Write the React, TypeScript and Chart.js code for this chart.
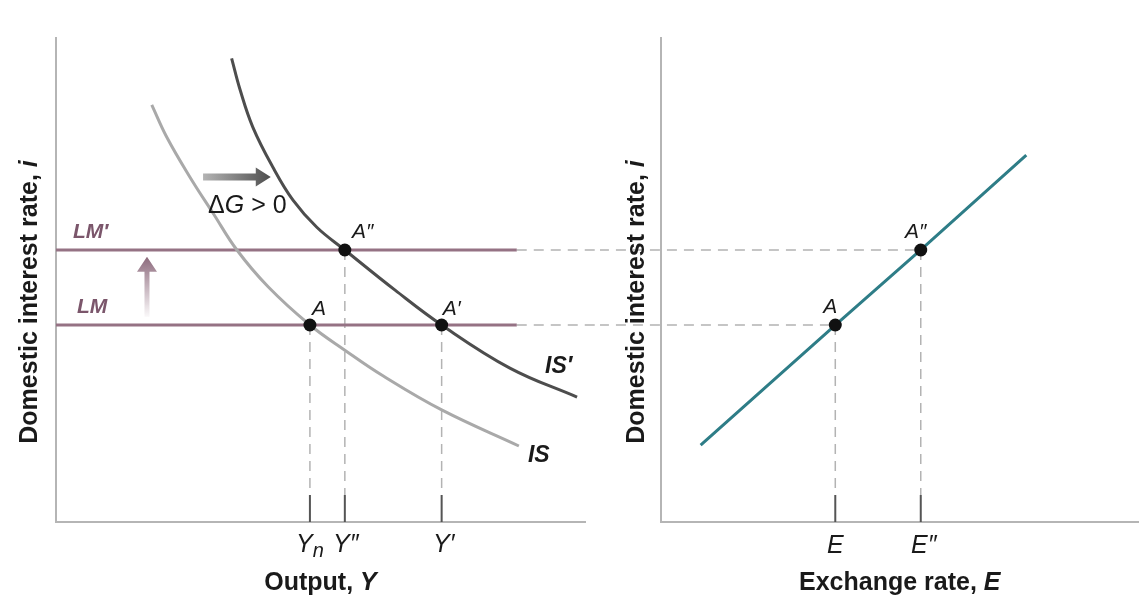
import { useEffect, useRef } from 'react';
import { Chart, registerables } from 'chart.js';

Chart.register(...registerables);

// left panel (IS-LM), arbitrary units 0-100 on both axes
const isOutput = [18.1, 20.9, 25.3, 29.7, 34.2, 40.1, 48.0, 54.6, 61.8, 73.0, 87.5];
const isRate = [86.2, 79.6, 71.3, 63.8, 56.2, 48.6, 40.7, 35.5, 30.2, 23.1, 15.7];
const isShiftOutput = [33.2, 34.8, 37.2, 41.0, 44.8, 49.3, 54.6, 64.1, 72.9, 85.8, 98.5];
const isShiftRate = [95.8, 89.3, 81.6, 73.3, 66.5, 60.9, 56.2, 47.9, 40.7, 31.8, 25.8];
const lmRate = 40.7;
const lmShiftRate = 56.2;
const lmEnd = 87.1;
const outputTicks = [48.0, 54.6, 72.9]; // Yn, Y'', Y'
const outputTickRates = [40.7, 56.2, 40.7];

// right panel (interest parity)
const uipExchange = [8.3, 36.5, 54.4, 76.5];
const uipRate = [15.9, 40.7, 56.2, 75.8];
const exchangeTicks = [36.5, 54.4]; // E, E''
const exchangeTickRates = [40.7, 56.2];

const tickTop = 5.6;

const FAM = "'Liberation Sans', Arial, Helvetica, sans-serif";
const AXIS = '#b5b5b5';
const DASH = '#b3b3b3';
const MAUVE = '#957284';
const MAUVE_TEXT = '#7b566b';
const INK = '#1a1a1a';

type Run = { t: string; f: string; dy?: number };
type Note = { runs: Run[]; x: number; y: number; dx: number; dy: number; align: 'left' | 'center'; color: string };
type Arrow = { x0: number; y0: number; x1: number; y1: number; shaft: number; head: number; headW: number; c0: string; c1: string };

const it = (s: number) => `italic ${s}px ${FAM}`;
const bi = (s: number) => `italic bold ${s}px ${FAM}`;
const bd = (s: number) => `bold ${s}px ${FAM}`;
const rg = (s: number) => `${s}px ${FAM}`;

function drawRuns(ctx: CanvasRenderingContext2D, runs: Run[], x: number, y: number, align: 'left' | 'center') {
  const widths = runs.map((r) => {
    ctx.font = r.f;
    return ctx.measureText(r.t).width;
  });
  let cx = align === 'center' ? x - widths.reduce((a, b) => a + b, 0) / 2 : x;
  runs.forEach((r, i) => {
    ctx.font = r.f;
    ctx.fillText(r.t, cx, y + (r.dy ?? 0));
    cx += widths[i];
  });
}

function drawArrow(ctx: CanvasRenderingContext2D, x0: number, y0: number, x1: number, y1: number, a: Arrow) {
  const len = Math.hypot(x1 - x0, y1 - y0);
  const ux = (x1 - x0) / len;
  const uy = (y1 - y0) / len;
  const nx = -uy;
  const ny = ux;
  const bx = x1 - ux * a.head;
  const by = y1 - uy * a.head;
  const g = ctx.createLinearGradient(x0, y0, x1, y1);
  g.addColorStop(0, a.c0);
  g.addColorStop(1, a.c1);
  ctx.beginPath();
  ctx.moveTo(x0 + (nx * a.shaft) / 2, y0 + (ny * a.shaft) / 2);
  ctx.lineTo(bx + (nx * a.shaft) / 2, by + (ny * a.shaft) / 2);
  ctx.lineTo(bx + (nx * a.headW) / 2, by + (ny * a.headW) / 2);
  ctx.lineTo(x1, y1);
  ctx.lineTo(bx - (nx * a.headW) / 2, by - (ny * a.headW) / 2);
  ctx.lineTo(bx - (nx * a.shaft) / 2, by - (ny * a.shaft) / 2);
  ctx.lineTo(x0 - (nx * a.shaft) / 2, y0 - (ny * a.shaft) / 2);
  ctx.closePath();
  ctx.fillStyle = g;
  ctx.fill();
}

function notesPlugin(notes: Note[], arrows: Arrow[], xTitle: Run[], yTitle: Run[], yTitleX: number) {
  return {
    id: 'notes',
    afterDatasetsDraw(chart: Chart) {
      const { ctx } = chart;
      const sx = chart.scales.x;
      const sy = chart.scales.y;
      ctx.save();
      arrows.forEach((a) =>
        drawArrow(ctx, sx.getPixelForValue(a.x0), sy.getPixelForValue(a.y0), sx.getPixelForValue(a.x1), sy.getPixelForValue(a.y1), a)
      );
      ctx.restore();
    },
    afterDraw(chart: Chart) {
      const { ctx, chartArea } = chart;
      const sx = chart.scales.x;
      const sy = chart.scales.y;
      ctx.save();
      ctx.textAlign = 'left';
      ctx.textBaseline = 'alphabetic';
      notes.forEach((n) => {
        ctx.fillStyle = n.color;
        drawRuns(ctx, n.runs, sx.getPixelForValue(n.x) + n.dx, sy.getPixelForValue(n.y) + n.dy, n.align);
      });
      ctx.fillStyle = INK;
      drawRuns(ctx, xTitle, (chartArea.left + chartArea.right) / 2, 590, 'center');
      ctx.translate(yTitleX, 302);
      ctx.rotate(-Math.PI / 2);
      drawRuns(ctx, yTitle, 0, 9, 'center');
      ctx.restore();
    },
  };
}

const seg = (pts: [number, number][]) => pts.map(([x, y]) => ({ x, y }));

function baseOptions(padLeft: number, padRight: number) {
  const axis = {
    type: 'linear' as const,
    min: 0,
    max: 100,
    grid: { display: false, drawTicks: false },
    ticks: { display: false },
    border: { display: true, color: AXIS, width: 2 },
  };
  return {
    animation: false as const,
    responsive: false,
    maintainAspectRatio: false,
    events: [],
    layout: { padding: { left: padLeft, right: padRight, top: 38, bottom: 87 } },
    plugins: { legend: { display: false }, tooltip: { enabled: false } },
    elements: { point: { radius: 0 } },
    scales: { x: axis, y: axis },
  };
}

const dashed = (data: { x: number; y: number }[]) => ({
  data,
  borderColor: DASH,
  borderWidth: 1.5,
  borderDash: [10, 7],
  clip: false as const,
  pointRadius: 0,
});
const solidTick = (x: number) => ({
  data: seg([[x, tickTop], [x, 0]]),
  borderColor: '#555',
  borderWidth: 2,
  pointRadius: 0,
});

function LeftPanel() {
  const ref = useRef<HTMLCanvasElement | null>(null);
  useEffect(() => {
    if (!ref.current) return;
    const lastIS = isOutput.length - 1;
    const lastIS2 = isShiftOutput.length - 1;
    const notes: Note[] = [
      { runs: [{ t: 'LM′', f: bi(21) }], x: 0, y: lmShiftRate, dx: 17, dy: -12, align: 'left', color: MAUVE_TEXT },
      { runs: [{ t: 'LM', f: bi(21) }], x: 0, y: lmRate, dx: 21, dy: -12, align: 'left', color: MAUVE_TEXT },
      { runs: [{ t: 'A', f: it(21) }], x: outputTicks[0], y: outputTickRates[0], dx: 9, dy: -10, align: 'center', color: INK },
      { runs: [{ t: 'A″', f: it(21) }], x: outputTicks[1], y: outputTickRates[1], dx: 18, dy: -12, align: 'center', color: INK },
      { runs: [{ t: 'A′', f: it(21) }], x: outputTicks[2], y: outputTickRates[2], dx: 10, dy: -10, align: 'center', color: INK },
      { runs: [{ t: 'IS′', f: bi(23) }], x: isShiftOutput[lastIS2], y: isShiftRate[lastIS2], dx: -32, dy: -24, align: 'left', color: INK },
      { runs: [{ t: 'IS', f: bi(23) }], x: isOutput[lastIS], y: isRate[lastIS], dx: 9, dy: 16, align: 'left', color: INK },
      { runs: [{ t: 'Δ', f: rg(25) }, { t: 'G', f: it(25) }, { t: ' > 0', f: rg(25) }], x: 27.8, y: 71.3, dx: 5, dy: 36, align: 'left', color: INK },
      { runs: [{ t: 'Y', f: it(25) }, { t: 'n', f: it(20), dy: 5 }], x: outputTicks[0], y: 0, dx: 0, dy: 30, align: 'center', color: INK },
      { runs: [{ t: 'Y″', f: it(25) }], x: outputTicks[1], y: 0, dx: 1, dy: 30, align: 'center', color: INK },
      { runs: [{ t: 'Y′', f: it(25) }], x: outputTicks[2], y: 0, dx: 2, dy: 30, align: 'center', color: INK },
    ];
    const arrows: Arrow[] = [
      { x0: 27.8, y0: 71.3, x1: 40.6, y1: 71.3, shaft: 7, head: 15, headW: 19, c0: '#b4b4b4', c1: '#4e4e4e' },
      { x0: 17.2, y0: 42.4, x1: 17.2, y1: 54.8, shaft: 5, head: 15, headW: 20, c0: 'rgba(150,115,133,0.05)', c1: '#8c6a7c' },
    ];
    const chart = new Chart(ref.current, {
      type: 'line',
      data: {
        datasets: [
          {
            data: outputTicks.map((x, i) => ({ x, y: outputTickRates[i] })),
            showLine: false,
            pointRadius: 6.5,
            pointBackgroundColor: '#111',
            pointBorderWidth: 0,
          },
          {
            data: isShiftOutput.map((x, i) => ({ x, y: isShiftRate[i] })),
            borderColor: '#4d4d4d',
            borderWidth: 3,
            tension: 0.4,
          },
          {
            data: isOutput.map((x, i) => ({ x, y: isRate[i] })),
            borderColor: '#a9a9a9',
            borderWidth: 3,
            tension: 0.4,
          },
          { data: seg([[0, lmRate], [lmEnd, lmRate]]), borderColor: MAUVE, borderWidth: 3 },
          { data: seg([[0, lmShiftRate], [lmEnd, lmShiftRate]]), borderColor: MAUVE, borderWidth: 3 },
          dashed(seg([[lmEnd, lmRate], [104, lmRate]])),
          dashed(seg([[lmEnd, lmShiftRate], [104, lmShiftRate]])),
          ...outputTicks.map((x, i) => dashed(seg([[x, outputTickRates[i]], [x, tickTop]]))),
          ...outputTicks.map((x) => solidTick(x)),
        ],
      },
      options: baseOptions(56, 15) as any,
      plugins: [
        notesPlugin(
          notes,
          arrows,
          [{ t: 'Output, ', f: bd(25) }, { t: 'Y', f: bi(25) }],
          [{ t: 'Domestic interest rate, ', f: bd(25) }, { t: 'i', f: bi(25) }],
          28
        ),
      ],
    });
    return () => chart.destroy();
  }, []);
  return <canvas ref={ref} width={600} height={609} style={{ width: 600, height: 609, display: 'block' }} />;
}

function RightPanel() {
  const ref = useRef<HTMLCanvasElement | null>(null);
  useEffect(() => {
    if (!ref.current) return;
    const notes: Note[] = [
      { runs: [{ t: 'A', f: it(21) }], x: exchangeTicks[0], y: exchangeTickRates[0], dx: -5, dy: -12, align: 'center', color: INK },
      { runs: [{ t: 'A″', f: it(21) }], x: exchangeTicks[1], y: exchangeTickRates[1], dx: -5, dy: -12, align: 'center', color: INK },
      { runs: [{ t: 'E', f: it(25) }], x: exchangeTicks[0], y: 0, dx: 0, dy: 31, align: 'center', color: INK },
      { runs: [{ t: 'E″', f: it(25) }], x: exchangeTicks[1], y: 0, dx: 3, dy: 31, align: 'center', color: INK },
    ];
    const chart = new Chart(ref.current, {
      type: 'line',
      data: {
        datasets: [
          {
            data: exchangeTicks.map((x, i) => ({ x, y: exchangeTickRates[i] })),
            showLine: false,
            pointRadius: 6.5,
            pointBackgroundColor: '#111',
            pointBorderWidth: 0,
          },
          {
            data: uipExchange.map((x, i) => ({ x, y: uipRate[i] })),
            borderColor: '#2e7d87',
            borderWidth: 3,
          },
          ...exchangeTicks.map((x, i) => dashed(seg([[-13, exchangeTickRates[i]], [x, exchangeTickRates[i]]]))),
          ...exchangeTicks.map((x, i) => dashed(seg([[x, exchangeTickRates[i]], [x, tickTop]]))),
          ...exchangeTicks.map((x) => solidTick(x)),
        ],
      },
      options: baseOptions(61, 4) as any,
      plugins: [
        notesPlugin(
          notes,
          [],
          [{ t: 'Exchange rate, ', f: bd(25) }, { t: 'E', f: bi(25) }],
          [{ t: 'Domestic interest rate, ', f: bd(25) }, { t: 'i', f: bi(25) }],
          35
        ),
      ],
    });
    return () => chart.destroy();
  }, []);
  return <canvas ref={ref} width={545} height={609} style={{ width: 545, height: 609, display: 'block' }} />;
}

export default function App() {
  return (
    <div style={{ position: 'fixed', left: 0, top: 0, width: 1145, height: 609, background: '#fff', display: 'flex' }}>
      <LeftPanel />
      <RightPanel />
    </div>
  );
}
